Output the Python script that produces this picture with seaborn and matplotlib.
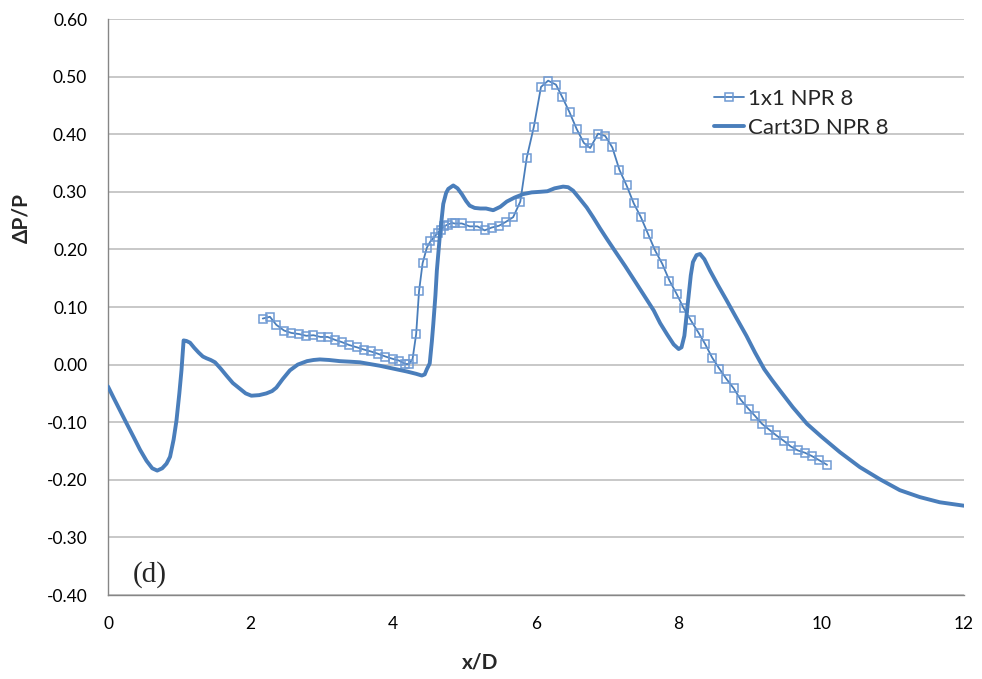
import matplotlib
matplotlib.use("Agg")
import matplotlib.pyplot as plt
import seaborn as sns
import pandas as pd
from matplotlib.lines import Line2D

# Experimental 1x1 tunnel data, NPR 8
x_1x1 = [2.17, 2.27, 2.36, 2.47, 2.57, 2.68, 2.78, 2.88, 2.98, 3.08, 3.18, 3.28,
         3.38, 3.49, 3.59, 3.68, 3.78, 3.89, 3.99, 4.08, 4.17, 4.22, 4.27, 4.32,
         4.36, 4.41, 4.47, 4.52, 4.58, 4.62, 4.67, 4.71, 4.76, 4.82, 4.86, 4.96,
         5.07, 5.18, 5.28, 5.38, 5.48, 5.58, 5.68, 5.78, 5.87, 5.97, 6.07, 6.17,
         6.28, 6.37, 6.47, 6.57, 6.67, 6.76, 6.87, 6.97, 7.07, 7.17, 7.27, 7.37,
         7.47, 7.57, 7.67, 7.77, 7.87, 7.97, 8.07, 8.17, 8.28, 8.37, 8.47, 8.57,
         8.67, 8.77, 8.87, 8.98, 9.07, 9.17, 9.27, 9.37, 9.47, 9.57, 9.67, 9.77,
         9.87, 9.97, 10.08]
y_1x1 = [0.080, 0.083, 0.069, 0.059, 0.055, 0.053, 0.050, 0.051, 0.048, 0.048, 0.043, 0.039,
         0.034, 0.030, 0.026, 0.023, 0.019, 0.014, 0.010, 0.007, 0.001, 0.001, 0.010, 0.053,
         0.127, 0.176, 0.203, 0.214, 0.222, 0.229, 0.233, 0.240, 0.243, 0.246, 0.245, 0.245,
         0.240, 0.240, 0.233, 0.238, 0.241, 0.248, 0.256, 0.283, 0.359, 0.413, 0.482, 0.493,
         0.486, 0.464, 0.438, 0.409, 0.385, 0.376, 0.401, 0.397, 0.377, 0.338, 0.311, 0.280,
         0.256, 0.227, 0.198, 0.175, 0.146, 0.123, 0.098, 0.077, 0.055, 0.036, 0.012, -0.007,
         -0.025, -0.041, -0.061, -0.077, -0.089, -0.103, -0.113, -0.123, -0.132, -0.142, -0.149, -0.153,
         -0.159, -0.166, -0.174]

# Cart3D simulation, NPR 8
x_cart = [0.00, 0.08, 0.17, 0.26, 0.36, 0.45, 0.54, 0.62, 0.69, 0.76, 0.82, 0.87,
          0.92, 0.96, 1.00, 1.03, 1.06, 1.10, 1.15, 1.21, 1.27, 1.33, 1.38, 1.44,
          1.50, 1.58, 1.66, 1.75, 1.85, 1.93, 2.01, 2.12, 2.22, 2.30, 2.36, 2.45,
          2.55, 2.66, 2.79, 2.88, 2.97, 3.10, 3.25, 3.40, 3.53, 3.67, 3.81, 4.00,
          4.19, 4.32, 4.40, 4.44, 4.47, 4.51, 4.54, 4.56, 4.59, 4.61, 4.65, 4.70,
          4.74, 4.77, 4.84, 4.90, 4.96, 5.02, 5.07, 5.14, 5.22, 5.30, 5.40, 5.50,
          5.59, 5.70, 5.82, 5.94, 6.06, 6.16, 6.26, 6.38, 6.45, 6.52, 6.60, 6.71,
          6.80, 6.90, 7.00, 7.13, 7.25, 7.37, 7.50, 7.65, 7.74, 7.84, 7.93, 8.00,
          8.04, 8.08, 8.11, 8.14, 8.17, 8.20, 8.25, 8.30, 8.36, 8.44, 8.55, 8.67,
          8.80, 8.95, 9.07, 9.20, 9.31, 9.42, 9.60, 9.80, 10.00, 10.26, 10.54, 10.82,
          11.10, 11.38, 11.66, 12.00]
y_cart = [-0.038, -0.058, -0.080, -0.102, -0.126, -0.148, -0.167, -0.180, -0.184, -0.180, -0.172, -0.160,
          -0.130, -0.097, -0.050, -0.010, 0.042, 0.041, 0.038, 0.029, 0.021, 0.014, 0.011, 0.008,
          0.004, -0.007, -0.019, -0.032, -0.042, -0.050, -0.054, -0.053, -0.050, -0.046, -0.040, -0.025,
          -0.010, 0.000, 0.006, 0.008, 0.009, 0.008, 0.006, 0.005, 0.004, 0.001, -0.002, -0.007,
          -0.012, -0.016, -0.019, -0.017, -0.008, 0.002, 0.040, 0.070, 0.120, 0.163, 0.221, 0.279,
          0.298, 0.305, 0.311, 0.306, 0.296, 0.284, 0.276, 0.272, 0.271, 0.271, 0.268, 0.274,
          0.283, 0.290, 0.296, 0.299, 0.300, 0.301, 0.306, 0.309, 0.308, 0.302, 0.290, 0.273,
          0.256, 0.236, 0.217, 0.193, 0.171, 0.148, 0.123, 0.094, 0.072, 0.052, 0.035, 0.027,
          0.030, 0.050, 0.085, 0.120, 0.155, 0.178, 0.190, 0.192, 0.183, 0.163, 0.138, 0.112,
          0.083, 0.050, 0.021, -0.008, -0.027, -0.045, -0.074, -0.103, -0.125, -0.152, -0.178, -0.199,
          -0.218, -0.230, -0.239, -0.245]

y_ticks = [-0.40, -0.30, -0.20, -0.10, 0.00, 0.10, 0.20, 0.30, 0.40, 0.50, 0.60]
x_ticks = [0, 2, 4, 6, 8, 10, 12]

BLUE = "#4A7EBB"
MARK = "#6F9AD3"
GRID = "#BFBFBF"
AXIS = "#868686"

sns.set_style("white")
plt.rcParams["font.family"] = ["Lato", "DejaVu Sans"]

fig = plt.figure(figsize=(9.82, 6.79), dpi=100)
ax = fig.add_axes([108 / 982, 1 - 595 / 679, 856 / 982, 576 / 679])

df_1x1 = pd.DataFrame({"x": x_1x1, "y": y_1x1})
df_cart = pd.DataFrame({"x": x_cart, "y": y_cart})

sns.lineplot(data=df_1x1, x="x", y="y", ax=ax, sort=False, estimator=None,
             color=BLUE, linewidth=1.3, marker="s", markersize=5.5,
             markerfacecolor="none", markeredgecolor=MARK, markeredgewidth=1.1,
             zorder=3)
sns.lineplot(data=df_cart, x="x", y="y", ax=ax, sort=False, estimator=None,
             color=BLUE, linewidth=2.8, zorder=4)

ax.set_xlim(0, 12)
ax.set_ylim(-0.40, 0.60)
ax.set_xticks(x_ticks)
ax.set_xticklabels([str(t) for t in x_ticks])
ax.set_yticks(y_ticks)
ax.set_yticklabels([f"{t:.2f}" for t in y_ticks])

ax.grid(axis="y", color=GRID, linewidth=1.2, zorder=0)
ax.grid(axis="x", visible=False)
ax.set_axisbelow(True)

for side in ("top", "right"):
    ax.spines[side].set_visible(False)
for side in ("left", "bottom"):
    ax.spines[side].set_color(AXIS)
    ax.spines[side].set_linewidth(1.0)

ax.tick_params(axis="both", direction="out", length=5, width=1.0, color=AXIS,
               labelsize=12.5, labelcolor="black")
ax.tick_params(axis="y", pad=10)
ax.tick_params(axis="x", pad=10)

ax.set_xlabel("x/D", fontsize=15, fontweight="bold")
ax.set_ylabel("ΔP/P", fontsize=15, fontweight="bold")
ax.xaxis.set_label_coords(0.435, -0.100)
ax.yaxis.set_label_coords(-0.090, 0.655)

ax.text(0.049, 0.035, "(d)", transform=ax.transAxes, fontsize=21,
        family=["Liberation Serif", "DejaVu Serif"], ha="center", va="center")

handles = [
    Line2D([], [], color=BLUE, linewidth=1.3, marker="s", markersize=5.5,
           markerfacecolor="none", markeredgecolor=MARK, markeredgewidth=1.1),
    Line2D([], [], color=BLUE, linewidth=2.8),
]
ax.legend(handles, ["1x1 NPR 8", "Cart3D NPR 8"], loc="upper left",
          bbox_to_anchor=((714 - 108) / 856, (595 - 89) / 576), frameon=False,
          fontsize=16, handlelength=1.35, handletextpad=0.2, labelspacing=0.40,
          borderpad=0, borderaxespad=0)

fig.savefig("out.png", dpi=100)
